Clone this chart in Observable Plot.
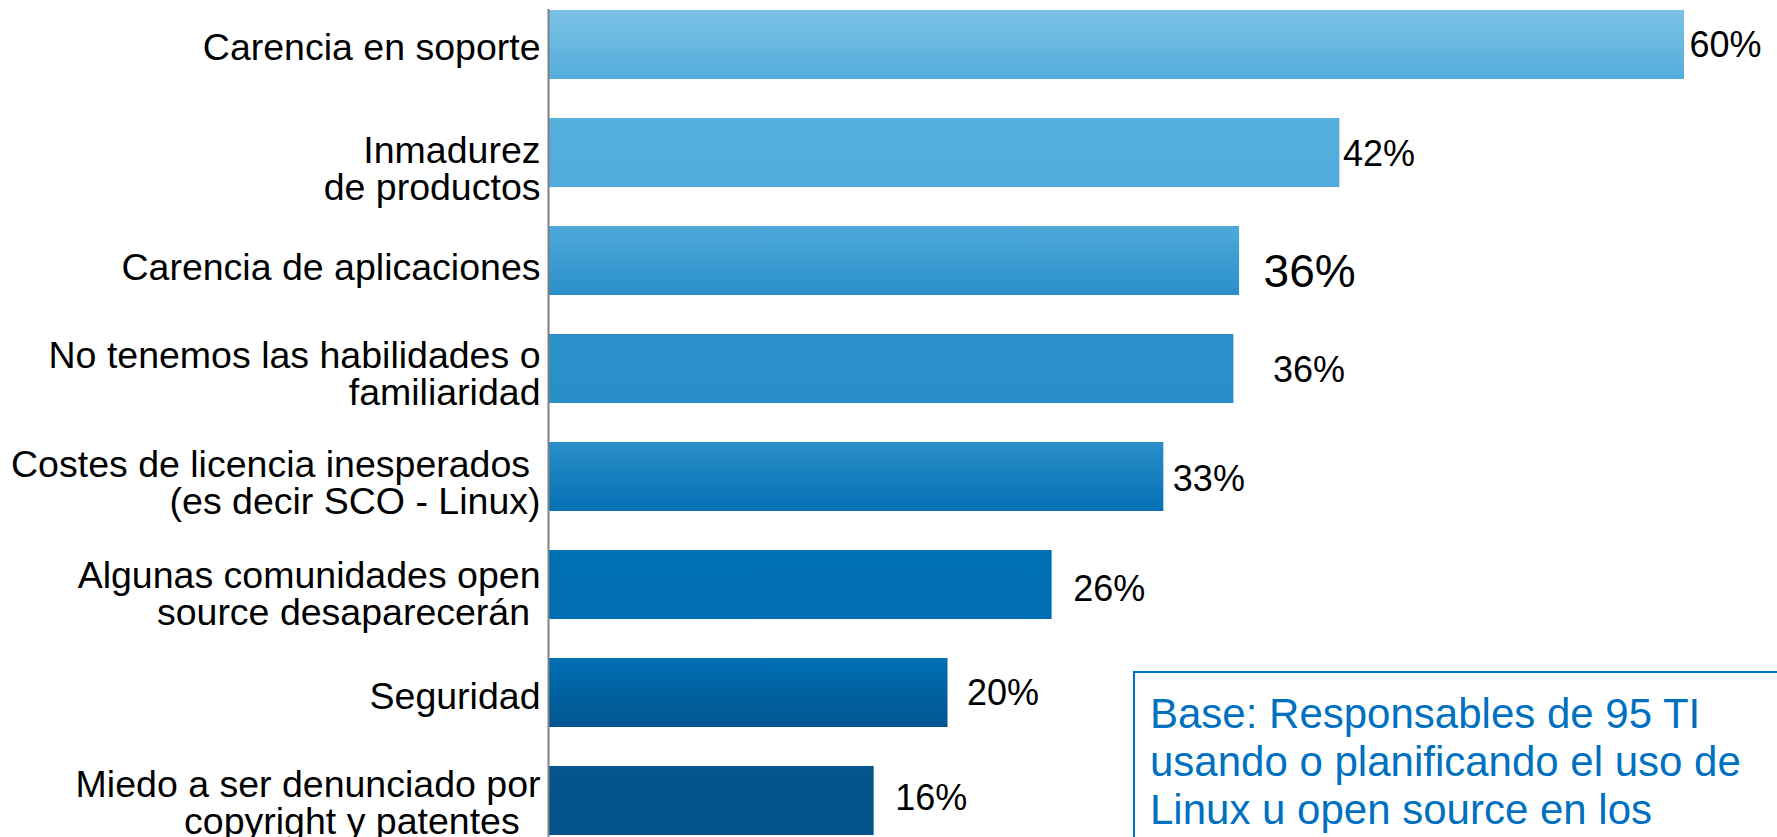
<!DOCTYPE html>
<html>
<head>
<meta charset="utf-8">
<script src="https://cdn.jsdelivr.net/npm/d3@7"></script>
<script src="https://cdn.jsdelivr.net/npm/@observablehq/plot@0.6"></script>
<style>
  html, body { margin: 0; padding: 0; background: #fff; overflow: hidden; }
  #wrap { position: relative; width: 1777px; height: 837px; overflow: hidden; }
  #note {
    position: absolute; left: 1133px; top: 671px; width: 720px; height: 260px;
    border: 2px solid #0070C0; box-sizing: border-box;
    padding: 17px 0 0 15px;
    font-family: "Liberation Sans", Arial, sans-serif; font-size: 42px; line-height: 48px;
    color: #0070C0; white-space: nowrap;
  }
</style>
</head>
<body>
<div id="wrap"></div>
<script>
// ---- data ----
const categories = [
  "Carencia en soporte",
  "Inmadurez\nde productos",
  "Carencia de aplicaciones",
  "No tenemos las habilidades o\nfamiliaridad",
  "Costes de licencia inesperados\u00A0\n(es decir SCO - Linux)",
  "Algunas comunidades open\nsource desaparecerán\u00A0",
  "Seguridad",
  "Miedo a ser denunciado por\ncopyright y patentes\u00A0\u00A0"
];
const values = [60, 41.8, 36.5, 36.2, 32.5, 26.6, 21.1, 17.2];
const valueLabels = ["60%", "42%", "36%", "36%", "33%", "26%", "20%", "16%"];
const noteLines = [
  "Base: Responsables de 95 TI",
  "usando o planificando el uso de",
  "Linux u open source en los"
];

// ---- styling (not data) ----
const gradTop    = ["#7BC2E5", "#55AFDD", "#4EAADB", "#2B8FC9", "#2A8EC8", "#0070B5", "#006FB4", "#03558C"];
const gradBottom = ["#55ADDC", "#52ADDC", "#2A8FC9", "#2A8EC8", "#0570B5", "#006FB3", "#01558F", "#02538A"];
const labelGap   = [5, 3, 24, 39, 9, 21, 19, 21];
const labelSize  = [36, 36, 46, 36, 36, 36, 36, 36];
const labelDy    = [0, 1, 11, 1, 2, 4, 0, -3];
const catDy      = [3, 17, 7, 6, 7, 10, 4, 3];

const rows = categories.map((c, i) => ({
  category: c, value: values[i], label: valueLabels[i], fill: `url(#bar-grad-${i})`
}));

const font = "'Liberation Sans', Arial, sans-serif";

const chart = Plot.plot({
  width: 1777,
  height: 837,
  marginTop: 9,
  marginBottom: 0,
  marginLeft: 548,
  marginRight: 93,
  x: { domain: [0, 60], range: [548, 1684], axis: null },
  y: { domain: categories, range: [-29, 874], padding: 0.36, axis: null },
  color: { type: "identity" },
  style: { fontFamily: font, background: "white", color: "black" },
  marks: [
    Plot.barX(rows, { x: "value", y: "category", fill: "fill" }),
    Plot.ruleX([0], { stroke: "#808080", strokeWidth: 2 }),
    ...rows.map((r, i) => Plot.text([r], {
      x: 0, y: "category", text: "category",
      textAnchor: "end", dx: -8, dy: catDy[i],
      fontSize: 37.5, lineHeight: 0.97, fill: "black"
    })),
    ...rows.map((r, i) => Plot.text([r], {
      x: "value", y: "category", text: "label",
      textAnchor: "start", dx: labelGap[i], dy: labelDy[i],
      fontSize: labelSize[i], fill: "black"
    }))
  ]
});

const defs = d3.select(chart).insert("defs", ":first-child");
rows.forEach((r, i) => {
  const g = defs.append("linearGradient")
    .attr("id", `bar-grad-${i}`)
    .attr("x1", 0).attr("y1", 0).attr("x2", 0).attr("y2", 1);
  g.append("stop").attr("offset", "0%").attr("stop-color", gradTop[i]);
  g.append("stop").attr("offset", "100%").attr("stop-color", gradBottom[i]);
});

const wrap = document.getElementById("wrap");
wrap.appendChild(chart);
const note = document.createElement("div");
note.id = "note";
note.innerHTML = noteLines.join("<br>");
wrap.appendChild(note);
</script>
</body>
</html>
